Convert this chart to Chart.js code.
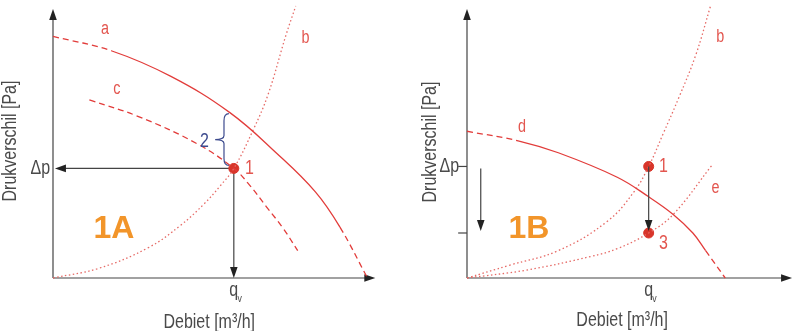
<!DOCTYPE html>
<html>
<head>
<meta charset="utf-8">
<script src="https://cdn.jsdelivr.net/npm/chart.js@4.4.1/dist/chart.umd.min.js"></script>
<style>
  html, body { margin: 0; padding: 0; background: #fff; }
  #wrap { display: flex; width: 800px; height: 331px; }
  .box { width: 400px; height: 331px; }
</style>
</head>
<body>
<div id="wrap">
  <div class="box"><canvas id="chartA" width="400" height="331"></canvas></div>
  <div class="box"><canvas id="chartB" width="400" height="331"></canvas></div>
</div>
<script>
// --- panel 1A (schematic units: x = debiet, y = drukverschil) ---
const curveA_a = [[0, 247], [60, 232], [120, 206], [180, 169], [227, 128], [267, 88], [292, 52], [320, 0]];
const curveA_b = [[0, 0], [47, 10], [97, 31], [130, 54], [154, 76], [170, 94], [184, 112], [204, 152], [219, 188], [237, 248], [247, 278]];
const curveA_c = [[37, 182], [87, 165], [147, 137], [184, 112], [200, 95], [217, 73], [234, 51], [249, 28]];
const pointsA = [[184, 112]];

// --- panel 1B ---
const curveB_b = [[0, 0], [43, 13], [93, 28], [143, 58], [170, 88], [185, 114], [200, 148], [216, 185], [233, 228], [248, 278]];
const curveB_d = [[0, 150], [53, 140], [93, 128], [153, 103], [185, 83], [210, 65], [230, 46], [243, 28], [263, 0]];
const curveB_e = [[0, 0], [60, 8], [126, 22], [153, 30], [185, 46], [210, 65], [250, 116]];
const pointsB = [[185, 114], [185, 46]];

const RED = "#e23c3a";
const RED_LIGHT = "#e66a66";
const RED_TEXT = "#e3564f";
const DOT = "#d8352a";
const AXIS = "#444";
const TEXT = "#4a4a4a";
const BLUE = "#3d4b8e";
const ORANGE = "#f2952a";
const SANS = '"Liberation Sans", Arial, sans-serif';

const DASH = [6, 4];
const DOTS = [1.5, 2.5];

function xy(arr) {
  return arr.map(p => ({ x: p[0], y: p[1] }));
}

function curve(data, color, dash, segDash) {
  let ds = {
    data: xy(data),
    showLine: true,
    borderColor: color,
    borderWidth: 1.3,
    borderDash: dash,
    pointRadius: 0,
    tension: 0.4,
    clip: false,
  };
  if (segDash) {
    ds.segment = { borderDash: ctx => segDash(ctx.p0DataIndex) ? DASH : [] };
  }
  return ds;
}

function dots(data) {
  return {
    data: xy(data),
    showLine: false,
    pointRadius: 5,
    pointBackgroundColor: DOT,
    pointBorderColor: DOT,
    clip: false,
  };
}

function pos(chart, x, y) {
  return [chart.scales.x.getPixelForValue(x), chart.scales.y.getPixelForValue(y)];
}

function drawArrow(ctx, chart, a) {
  const [x1, y1] = pos(chart, a.from[0], a.from[1]);
  const [x2, y2] = pos(chart, a.to[0], a.to[1]);
  const ang = Math.atan2(y2 - y1, x2 - x1);
  const L = 11, W = 3.8;
  ctx.strokeStyle = AXIS;
  ctx.fillStyle = "#222";
  ctx.lineWidth = 1.2;
  ctx.beginPath();
  ctx.moveTo(x1, y1);
  ctx.lineTo(x2 - Math.cos(ang) * L * 0.7, y2 - Math.sin(ang) * L * 0.7);
  ctx.stroke();
  ctx.save();
  ctx.translate(x2, y2);
  ctx.rotate(ang);
  ctx.beginPath();
  ctx.moveTo(0, 0);
  ctx.lineTo(-L, -W);
  ctx.lineTo(-L, W);
  ctx.closePath();
  ctx.fill();
  ctx.restore();
}

// text is squeezed horizontally to mimic the condensed face of the original
function drawLabel(ctx, chart, l) {
  const [x, y] = pos(chart, l.x, l.y);
  ctx.save();
  ctx.fillStyle = l.color || TEXT;
  ctx.font = l.font || "20px " + SANS;
  ctx.textAlign = l.align || "center";
  ctx.textBaseline = "middle";
  ctx.translate(x, y);
  if (l.rotate) ctx.rotate(l.rotate);
  ctx.scale(l.sx || 0.8, 1);
  ctx.fillText(l.text, 0, 0);
  if (l.sub) {
    const w = ctx.measureText(l.text).width;
    ctx.font = "11px " + SANS;
    ctx.textAlign = "left";
    ctx.fillText(l.sub, w / 2 - 1, 8);
  }
  ctx.restore();
}

function drawBrace(ctx, chart, b) {
  const [xs, yt] = pos(chart, b.x, b.top);
  const [, yb] = pos(chart, b.x, b.bottom);
  const [xe] = pos(chart, b.x + b.curl, 0);
  const [xt] = pos(chart, b.tipX, 0);
  const ym = (yt + yb) / 2;
  ctx.save();
  ctx.strokeStyle = BLUE;
  ctx.lineWidth = 1.2;
  ctx.beginPath();
  ctx.moveTo(xe, yt);
  ctx.quadraticCurveTo(xs, yt, xs, yt + 7);
  ctx.lineTo(xs, ym - 4);
  ctx.quadraticCurveTo(xs, ym, xt, ym);
  ctx.quadraticCurveTo(xs, ym, xs, ym + 4);
  ctx.lineTo(xs, yb - 7);
  ctx.quadraticCurveTo(xs, yb, xe, yb);
  ctx.stroke();
  ctx.restore();
}

function decor(cfg) {
  return {
    id: "decor",
    beforeDatasetsDraw(chart) {
      const ctx = chart.ctx;
      ctx.save();
      (cfg.lines || []).forEach(ln => {
        const [x1, y1] = pos(chart, ln[0], ln[1]);
        const [x2, y2] = pos(chart, ln[2], ln[3]);
        ctx.strokeStyle = AXIS;
        ctx.lineWidth = 1.2;
        ctx.beginPath();
        ctx.moveTo(x1, y1);
        ctx.lineTo(x2, y2);
        ctx.stroke();
      });
      cfg.arrows.filter(a => !a.top).forEach(a => drawArrow(ctx, chart, a));
      ctx.restore();
    },
    afterDatasetsDraw(chart) {
      const ctx = chart.ctx;
      ctx.save();
      cfg.arrows.filter(a => a.top).forEach(a => drawArrow(ctx, chart, a));
      if (cfg.brace) drawBrace(ctx, chart, cfg.brace);
      cfg.labels.forEach(l => drawLabel(ctx, chart, l));
      ctx.restore();
    },
  };
}

function makeChart(id, datasets, xMax, padLeft, cfg) {
  return new Chart(document.getElementById(id), {
    type: "scatter",
    data: { datasets: datasets },
    options: {
      responsive: false,
      animation: false,
      devicePixelRatio: 1,
      layout: { padding: { left: padLeft, right: 0, top: 0, bottom: 53 } },
      scales: {
        x: { type: "linear", min: 0, max: xMax, display: false },
        y: { type: "linear", min: 0, max: 278, display: false },
      },
      plugins: { legend: { display: false }, tooltip: { enabled: false } },
    },
    plugins: [decor(cfg)],
  });
}

const titleFont = "20px " + SANS;
const letterFont = "18px " + SANS;
const numFont = "20px " + SANS;

makeChart("chartA", [
  curve(curveA_a, RED, [], i => i < 1 || i >= 6),
  curve(curveA_b, RED_LIGHT, DOTS),
  curve(curveA_c, RED, DASH),
  dots(pointsA),
], 347, 53, {
  arrows: [
    { from: [0, 0], to: [0, 275] },
    { from: [0, 0], to: [328, 0] },
    { from: [184, 112], to: [2, 112] },
    { from: [184, 112], to: [184, 0] },
  ],
  brace: { x: 174, top: 168, bottom: 115, curl: 5, tipX: 165 },
  labels: [
    { text: "a", x: 53, y: 254, color: RED_TEXT, font: letterFont },
    { text: "b", x: 257, y: 245, color: RED_TEXT, font: letterFont },
    { text: "c", x: 65, y: 193, color: RED_TEXT, font: letterFont },
    { text: "1", x: 200, y: 112, color: RED_TEXT, font: numFont },
    { text: "2", x: 154, y: 140, color: BLUE, font: numFont },
    { text: "\u0394p", x: -3, y: 112, align: "right", font: titleFont },
    { text: "q", x: 184, y: -13, sub: "v", font: titleFont },
    { text: "1A", x: 62, y: 50, color: ORANGE, font: "bold 32px " + SANS, sx: 1 },
    { text: "Debiet [m\u00b3/h]", x: 159, y: -45, font: titleFont },
    { text: "Drukverschil [Pa]", x: -43, y: 140, rotate: -Math.PI / 2, font: titleFont },
  ],
});

makeChart("chartB", [
  curve(curveB_d, RED, [], i => i < 1 || i >= 7),
  curve(curveB_b, RED_LIGHT, DOTS),
  curve(curveB_e, RED_LIGHT, DOTS),
  dots(pointsB),
], 333, 67, {
  lines: [[-9, 114, 0, 114], [-9, 46, 0, 46]],
  arrows: [
    { from: [0, 0], to: [0, 275] },
    { from: [0, 0], to: [331, 0] },
    { from: [14, 112], to: [14, 48] },
    { from: [185, 114], to: [185, 48], top: true },
  ],
  labels: [
    { text: "b", x: 258, y: 246, color: RED_TEXT, font: letterFont },
    { text: "d", x: 56, y: 154, color: RED_TEXT, font: letterFont },
    { text: "e", x: 253, y: 92, color: RED_TEXT, font: letterFont },
    { text: "1", x: 200, y: 114, color: RED_TEXT, font: numFont },
    { text: "3", x: 200, y: 35, color: RED_TEXT, font: numFont },
    { text: "\u0394p", x: -8, y: 114, align: "right", font: titleFont },
    { text: "q", x: 185, y: -13, sub: "v", font: titleFont },
    { text: "1B", x: 63, y: 50, color: ORANGE, font: "bold 32px " + SANS, sx: 1 },
    { text: "Debiet [m\u00b3/h]", x: 158, y: -43, font: titleFont },
    { text: "Drukverschil [Pa]", x: -37, y: 139, rotate: -Math.PI / 2, font: titleFont },
  ],
});
</script>
</body>
</html>
